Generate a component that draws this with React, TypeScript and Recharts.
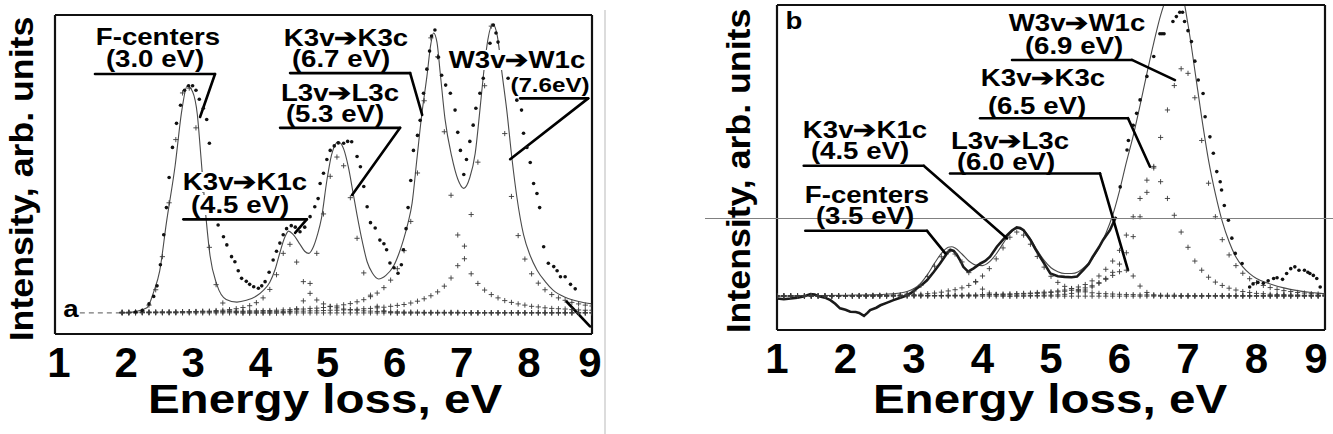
import { ComposedChart, Line, Scatter, XAxis, YAxis, ReferenceLine } from "recharts";

const FONT = '"Liberation Sans", Arial, Helvetica, sans-serif';

const energyTicks = [1, 2, 3, 4, 5, 6, 7, 8, 9];
const energyMinorTicks = [1, 1.5, 2, 2.5, 3, 3.5, 4, 4.5, 5, 5.5, 6, 6.5, 7, 7.5, 8, 8.5, 9];

// ---------- panel a ----------
const intensityTicksA = [-0.43, 0.57, 1.57, 2.57, 3.57, 4.57, 5.57, 6.57, 7.57, 8.57, 9.57];

const energyGridA = [
  2.0, 2.1, 2.2, 2.3, 2.4, 2.5, 2.6, 2.7, 2.8, 2.9,
  3.0, 3.1, 3.2, 3.3, 3.4, 3.5, 3.6, 3.7, 3.8, 3.9,
  4.0, 4.1, 4.2, 4.3, 4.4, 4.5, 4.6, 4.7, 4.8, 4.9,
  5.0, 5.1, 5.2, 5.3, 5.4, 5.5, 5.6, 5.7, 5.8, 5.9,
  6.0, 6.1, 6.2, 6.3, 6.4, 6.5, 6.6, 6.7, 6.8, 6.9,
  7.0, 7.1, 7.2, 7.3, 7.4, 7.5, 7.6, 7.7, 7.8, 7.9,
  8.0, 8.1, 8.2, 8.3, 8.4, 8.5, 8.6, 8.7, 8.8, 8.9,
  9.0,
];

const fCentersA = [
  0, 0, 0.01, 0.07, 0.26, 0.77, 1.87, 3.66, 5.76, 7.31,
  7.47, 6.15, 4.08, 2.18, 0.94, 0.33, 0.09, 0.02, 0, 0,
  0, 0, 0, 0, 0, 0, 0, 0, 0, 0,
  0, 0, 0, 0, 0, 0, 0, 0, 0, 0,
  0, 0, 0, 0, 0, 0, 0, 0, 0, 0,
  0, 0, 0, 0, 0, 0, 0, 0, 0, 0,
  0, 0, 0, 0, 0, 0, 0, 0, 0, 0,
  0,
];

const k1cA = [
  0.02, 0.02, 0.02, 0.02, 0.02, 0.02, 0.03, 0.03, 0.03, 0.04,
  0.04, 0.05, 0.06, 0.06, 0.08, 0.09, 0.11, 0.14, 0.18, 0.24,
  0.34, 0.5, 0.78, 1.27, 1.98, 2.28, 1.69, 1.04, 0.65, 0.43,
  0.3, 0.22, 0.17, 0.13, 0.1, 0.09, 0.07, 0.06, 0.05, 0.05,
  0.04, 0.04, 0.03, 0.03, 0.03, 0.02, 0.02, 0.02, 0.02, 0.02,
  0.02, 0.01, 0.01, 0.01, 0.01, 0.01, 0.01, 0.01, 0.01, 0.01,
  0.01, 0.01, 0.01, 0.01, 0.01, 0.01, 0.01, 0.01, 0.01, 0.01,
  0.01,
];

const l3cA = [
  0, 0, 0, 0, 0, 0, 0, 0, 0, 0,
  0, 0, 0, 0, 0, 0, 0, 0, 0, 0,
  0, 0, 0, 0, 0.01, 0.04, 0.14, 0.4, 0.98, 1.98,
  3.29, 4.54, 5.18, 4.89, 3.83, 2.48, 1.33, 0.59, 0.22, 0.07,
  0.02, 0, 0, 0, 0, 0, 0, 0, 0, 0,
  0, 0, 0, 0, 0, 0, 0, 0, 0, 0,
  0, 0, 0, 0, 0, 0, 0, 0, 0, 0,
  0,
];

const k3cA = [
  0.02, 0.02, 0.03, 0.03, 0.03, 0.03, 0.03, 0.03, 0.03, 0.04,
  0.04, 0.04, 0.04, 0.04, 0.05, 0.05, 0.05, 0.06, 0.06, 0.07,
  0.07, 0.08, 0.08, 0.09, 0.1, 0.11, 0.12, 0.13, 0.15, 0.16,
  0.18, 0.21, 0.23, 0.27, 0.31, 0.37, 0.44, 0.54, 0.66, 0.84,
  1.09, 1.47, 2.07, 3.04, 4.65, 7.05, 9.14, 8.51, 6.02, 3.91,
  2.59, 1.8, 1.3, 0.98, 0.76, 0.61, 0.5, 0.41, 0.35, 0.3,
  0.26, 0.22, 0.2, 0.17, 0.15, 0.14, 0.13, 0.11, 0.1, 0.09,
  0.09,
];

const w1cA = [
  0.02, 0.02, 0.02, 0.02, 0.02, 0.02, 0.02, 0.02, 0.02, 0.02,
  0.03, 0.03, 0.03, 0.03, 0.03, 0.03, 0.03, 0.04, 0.04, 0.04,
  0.04, 0.04, 0.05, 0.05, 0.05, 0.06, 0.06, 0.06, 0.07, 0.07,
  0.08, 0.09, 0.09, 0.1, 0.11, 0.12, 0.14, 0.15, 0.17, 0.19,
  0.22, 0.25, 0.28, 0.33, 0.39, 0.47, 0.57, 0.7, 0.89, 1.16,
  1.57, 2.22, 3.27, 5.01, 7.55, 9.53, 8.56, 5.96, 3.87, 2.57,
  1.79, 1.3, 0.99, 0.77, 0.61, 0.5, 0.42, 0.35, 0.3, 0.26,
  0.23,
];

// fitted sum, [eV, intensity]
const fitA = [
  [2.0, 0], [2.2, 0.05], [2.37, 0.17], [2.47, 0.7], [2.56, 1.4], [2.66, 3.0], [2.79, 4.9],
  [2.89, 6.74], [2.97, 7.55], [3.05, 7.35], [3.12, 6.6], [3.17, 5.3], [3.24, 3.4], [3.31, 1.9],
  [3.41, 0.95], [3.55, 0.45], [3.71, 0.36], [3.85, 0.42], [4.0, 0.56], [4.1, 0.74], [4.2, 1.02],
  [4.28, 1.45], [4.35, 2.0], [4.42, 2.5], [4.48, 2.72], [4.55, 2.6], [4.65, 2.28], [4.72, 2.05],
  [4.78, 1.98], [4.85, 2.2], [4.91, 2.6], [4.97, 3.15], [5.05, 4.4], [5.12, 5.25], [5.22, 5.69],
  [5.3, 5.45], [5.37, 4.85], [5.44, 4.0], [5.5, 3.25], [5.58, 2.35], [5.65, 1.7], [5.73, 1.32],
  [5.82, 1.13], [5.93, 1.25], [6.04, 1.54], [6.12, 1.95], [6.19, 2.42], [6.26, 3.0], [6.32, 3.65],
  [6.39, 5.08], [6.46, 6.52], [6.54, 7.85], [6.6, 8.95], [6.64, 9.3], [6.69, 9.0], [6.74, 7.95],
  [6.81, 6.45], [6.91, 5.2], [7.0, 4.45], [7.09, 4.14], [7.18, 4.5], [7.26, 5.3], [7.33, 6.74],
  [7.38, 7.85], [7.45, 9.1], [7.52, 9.6], [7.59, 9.2], [7.66, 7.95], [7.73, 6.74], [7.81, 5.08],
  [7.88, 3.86], [7.98, 2.6], [8.08, 1.9], [8.18, 1.43], [8.3, 1.05], [8.42, 0.76], [8.6, 0.52],
  [8.8, 0.38], [9.0, 0.3],
];

// measured points
const measuredA = [
  [2.2, 0.03], [2.3, 0.08], [2.4, 0.3], [2.47, 0.55], [2.52, 0.9], [2.57, 1.6], [2.62, 2.6],
  [2.66, 3.5], [2.7, 4.5], [2.75, 5.5], [2.81, 6.3], [2.87, 6.9], [2.93, 7.4], [2.99, 7.55],
  [3.05, 7.55], [3.1, 7.4], [3.15, 7.1], [3.21, 6.8], [3.26, 6.43], [3.3, 5.64], [3.35, 4.6],
  [3.39, 3.7], [3.43, 2.92], [3.51, 2.53], [3.56, 2.26], [3.63, 1.87], [3.68, 1.7], [3.73, 1.4],
  [3.78, 1.15], [3.85, 1.05], [3.9, 0.95], [3.96, 0.87], [4.03, 0.82], [4.08, 0.9], [4.13, 1.04],
  [4.19, 1.35], [4.25, 1.76], [4.3, 2.05], [4.35, 2.32], [4.4, 2.6], [4.45, 2.8], [4.52, 2.9],
  [4.58, 2.85], [4.65, 2.7], [4.72, 2.85], [4.8, 3.2], [4.87, 3.53], [4.92, 3.8], [4.95, 4.3],
  [5.0, 4.64], [5.05, 5.1], [5.1, 5.4], [5.16, 5.55], [5.22, 5.65], [5.3, 5.64], [5.36, 5.7],
  [5.42, 5.69], [5.5, 5.2], [5.55, 4.86], [5.6, 4.2], [5.65, 3.53], [5.7, 3.0], [5.77, 2.82],
  [5.84, 2.42], [5.9, 2.3], [5.94, 2.1], [5.99, 1.66], [6.05, 1.5], [6.11, 1.32], [6.16, 1.6],
  [6.19, 2.1], [6.23, 2.8], [6.26, 3.5], [6.3, 4.4], [6.34, 5.4], [6.4, 5.9], [6.44, 6.4],
  [6.49, 7.3], [6.54, 8.1], [6.58, 8.7], [6.61, 9.2], [6.66, 9.4], [6.71, 8.5], [6.76, 7.9],
  [6.82, 7.57], [6.89, 7.3], [6.96, 6.74], [7.0, 6.0], [7.04, 5.4], [7.09, 4.6], [7.13, 5.1],
  [7.18, 5.7], [7.23, 6.24], [7.27, 6.8], [7.33, 7.3], [7.38, 7.8], [7.43, 8.4], [7.48, 8.96],
  [7.53, 9.57], [7.57, 9.3], [7.6, 9.0], [7.66, 8.4], [7.75, 7.8], [7.82, 7.4], [7.88, 7.07],
  [7.95, 6.74], [7.98, 5.97], [8.03, 5.5], [8.08, 5.0], [8.13, 4.3], [8.18, 3.97], [8.22, 3.5],
  [8.28, 2.2], [8.35, 1.65], [8.43, 1.54], [8.48, 1.4], [8.53, 1.2], [8.6, 1.2], [8.68, 0.95],
  [8.75, 0.8],
];

// ---------- panel b ----------
const intensityTicksB = [-0.75, 0.25, 1.25, 2.25, 3.25, 4.25, 5.25, 6.25, 7.25, 8.25, 9.25];

const energyGridB = [
  1.0, 1.1, 1.2, 1.3, 1.4, 1.5, 1.6, 1.7, 1.8, 1.9,
  2.0, 2.1, 2.2, 2.3, 2.4, 2.5, 2.6, 2.7, 2.8, 2.9,
  3.0, 3.1, 3.2, 3.3, 3.4, 3.5, 3.6, 3.7, 3.8, 3.9,
  4.0, 4.1, 4.2, 4.3, 4.4, 4.5, 4.6, 4.7, 4.8, 4.9,
  5.0, 5.1, 5.2, 5.3, 5.4, 5.5, 5.6, 5.7, 5.8, 5.9,
  6.0, 6.1, 6.2, 6.3, 6.4, 6.5, 6.6, 6.7, 6.8, 6.9,
  7.0, 7.1, 7.2, 7.3, 7.4, 7.5, 7.6, 7.7, 7.8, 7.9,
  8.0, 8.1, 8.2, 8.3, 8.4, 8.5, 8.6, 8.7, 8.8, 8.9,
  9.0,
];

const fCentersB = [
  0, 0, 0, 0, 0, 0, 0, 0, 0, 0,
  0, 0, 0, 0, 0, 0, 0, 0.01, 0.02, 0.07,
  0.17, 0.35, 0.64, 0.98, 1.29, 1.45, 1.38, 1.12, 0.77, 0.46,
  0.23, 0.1, 0.04, 0.01, 0, 0, 0, 0, 0, 0,
  0, 0, 0, 0, 0, 0, 0, 0, 0, 0,
  0, 0, 0, 0, 0, 0, 0, 0, 0, 0,
  0, 0, 0, 0, 0, 0, 0, 0, 0, 0,
  0, 0, 0, 0, 0, 0, 0, 0, 0, 0,
  0,
];

const k1cB = [
  0.01, 0.01, 0.01, 0.01, 0.01, 0.01, 0.01, 0.01, 0.01, 0.01,
  0.02, 0.02, 0.02, 0.02, 0.03, 0.03, 0.03, 0.04, 0.04, 0.05,
  0.05, 0.06, 0.08, 0.1, 0.13, 0.17, 0.21, 0.27, 0.35, 0.48,
  0.66, 0.9, 1.22, 1.58, 1.93, 2.1, 2.0, 1.7, 1.3, 0.95,
  0.65, 0.45, 0.32, 0.24, 0.18, 0.14, 0.11, 0.09, 0.08, 0.07,
  0.06, 0.05, 0.05, 0.04, 0.04, 0.03, 0.03, 0.03, 0.03, 0.02,
  0.02, 0.02, 0.02, 0.02, 0.02, 0.02, 0.02, 0.02, 0.02, 0.02,
  0.02, 0.02, 0.02, 0.02, 0.02, 0.02, 0.02, 0.02, 0.02, 0.02,
  0.02,
];

const l3cB = [
  0, 0, 0, 0, 0, 0, 0, 0, 0, 0,
  0, 0, 0, 0, 0, 0, 0, 0, 0, 0,
  0, 0, 0, 0, 0, 0, 0, 0, 0, 0,
  0, 0, 0, 0, 0, 0.01, 0.01, 0.02, 0.02, 0.03,
  0.03, 0.04, 0.06, 0.09, 0.14, 0.2, 0.3, 0.42, 0.55, 0.68,
  0.8, 0.85, 0.66, 0.33, 0.12, 0.04, 0.01, 0, 0, 0,
  0, 0, 0, 0, 0, 0, 0, 0, 0, 0,
  0, 0, 0, 0, 0, 0, 0, 0, 0, 0,
  0,
];

const k3cB = [
  0.01, 0.01, 0.01, 0.01, 0.01, 0.01, 0.01, 0.01, 0.01, 0.01,
  0.01, 0.01, 0.01, 0.01, 0.01, 0.02, 0.02, 0.02, 0.02, 0.02,
  0.02, 0.02, 0.02, 0.02, 0.02, 0.03, 0.03, 0.03, 0.04, 0.04,
  0.05, 0.05, 0.06, 0.07, 0.07, 0.08, 0.09, 0.1, 0.12, 0.13,
  0.14, 0.17, 0.2, 0.25, 0.3, 0.38, 0.5, 0.66, 0.88, 1.15,
  1.5, 2.0, 2.6, 3.2, 3.8, 4.2, 3.75, 3.2, 2.65, 2.1,
  1.6, 1.15, 0.85, 0.62, 0.46, 0.35, 0.26, 0.2, 0.15, 0.12,
  0.09, 0.08, 0.06, 0.05, 0.05, 0.04, 0.04, 0.03, 0.03, 0.02,
  0.02,
];

const w1cB = [
  0.01, 0.01, 0.01, 0.01, 0.01, 0.01, 0.01, 0.01, 0.01, 0.01,
  0.01, 0.01, 0.01, 0.01, 0.01, 0.01, 0.01, 0.01, 0.01, 0.01,
  0.02, 0.02, 0.02, 0.02, 0.02, 0.02, 0.02, 0.02, 0.02, 0.02,
  0.04, 0.04, 0.05, 0.05, 0.06, 0.07, 0.07, 0.08, 0.09, 0.1,
  0.12, 0.14, 0.16, 0.19, 0.22, 0.27, 0.34, 0.44, 0.58, 0.78,
  1.05, 1.42, 1.95, 2.6, 3.4, 4.25, 5.2, 6.1, 6.9, 7.45,
  7.3, 6.5, 5.1, 3.7, 2.6, 1.85, 1.35, 1.0, 0.75, 0.57,
  0.44, 0.35, 0.28, 0.22, 0.18, 0.15, 0.12, 0.1, 0.08, 0.07,
  0.06,
];

const fitB = [
  [1.0, 0], [2.0, 0.03], [2.5, 0.05], [2.7, 0.08], [2.8, 0.1], [2.9, 0.15], [3.0, 0.25],
  [3.1, 0.43], [3.2, 0.72], [3.3, 1.08], [3.4, 1.4], [3.5, 1.6], [3.55, 1.62], [3.6, 1.58],
  [3.7, 1.38], [3.8, 1.15], [3.9, 1.02], [4.0, 1.0], [4.1, 1.12], [4.2, 1.38], [4.3, 1.72],
  [4.4, 2.05], [4.5, 2.22], [4.6, 2.15], [4.7, 1.88], [4.8, 1.5], [4.9, 1.17], [5.0, 0.93],
  [5.1, 0.8], [5.2, 0.74], [5.3, 0.74], [5.4, 0.8], [5.5, 0.97], [5.6, 1.22], [5.7, 1.58],
  [5.8, 2.05], [5.9, 2.65], [6.0, 3.45], [6.1, 4.38], [6.2, 5.25], [6.3, 6.25], [6.4, 7.3],
  [6.5, 8.3], [6.6, 9.2], [6.7, 9.85], [6.8, 10.15], [6.9, 10.0], [7.0, 8.9], [7.1, 7.4],
  [7.2, 5.85], [7.3, 4.45], [7.4, 3.35], [7.5, 2.45], [7.6, 1.78], [7.7, 1.28], [7.8, 0.96],
  [7.9, 0.74], [8.0, 0.58], [8.2, 0.4], [8.4, 0.27], [8.6, 0.18], [8.8, 0.12], [9.0, 0.08],
];

// dense measured trace, then the sparse measured points
const measuredTraceB = [
  [1.0, -0.08], [1.1, -0.1], [1.2, -0.08], [1.3, -0.05], [1.4, 0.0], [1.49, 0.07], [1.55, 0.05],
  [1.6, 0.0], [1.7, -0.05], [1.78, -0.13], [1.85, -0.25], [1.92, -0.4], [2.0, -0.45], [2.07, -0.51],
  [2.15, -0.52], [2.2, -0.55], [2.27, -0.65], [2.32, -0.55], [2.36, -0.46], [2.45, -0.38], [2.51, -0.3],
  [2.6, -0.22], [2.7, -0.13], [2.8, -0.05], [2.9, 0.03], [2.97, 0.12], [3.04, 0.25], [3.12, 0.38],
  [3.19, 0.52], [3.29, 0.8], [3.38, 1.07], [3.45, 1.3], [3.48, 1.4], [3.53, 1.52], [3.58, 1.48],
  [3.63, 1.34], [3.68, 1.15], [3.72, 0.96], [3.79, 0.8], [3.87, 0.91], [3.97, 1.07], [4.04, 1.15],
  [4.11, 1.29], [4.21, 1.62], [4.3, 1.85], [4.36, 2.0], [4.43, 2.15], [4.5, 2.25], [4.55, 2.23],
  [4.6, 2.16], [4.7, 1.84], [4.77, 1.55], [4.84, 1.29], [4.92, 1.0], [4.99, 0.74], [5.1, 0.65],
  [5.2, 0.63], [5.3, 0.62], [5.38, 0.64], [5.47, 0.85], [5.55, 1.05], [5.61, 1.29], [5.7, 1.6],
  [5.76, 1.84], [5.86, 2.16], [5.95, 2.6],
];

const measuredB = [
  [6.01, 3.58], [6.11, 4.79], [6.13, 5.1], [6.2, 5.6], [6.25, 5.99], [6.3, 6.43], [6.4, 7.2],
  [6.5, 7.85], [6.59, 8.6], [6.62, 8.6], [6.65, 8.6], [6.78, 9.0], [6.83, 9.16], [6.88, 9.3],
  [6.92, 9.3], [6.95, 9.0], [7.0, 8.7], [7.05, 8.34], [7.1, 7.7], [7.15, 7.08], [7.22, 6.64],
  [7.25, 5.88], [7.32, 5.22], [7.37, 4.68], [7.42, 4.08], [7.47, 3.75], [7.49, 3.48], [7.53, 2.97],
  [7.59, 2.49], [7.64, 1.9], [7.69, 1.4], [7.79, 1.07], [7.9, 0.3], [7.95, 0.4], [8.02, 0.45],
  [8.1, 0.42], [8.17, 0.5], [8.25, 0.58], [8.3, 0.6], [8.38, 0.55], [8.44, 0.74], [8.5, 0.9],
  [8.56, 0.96], [8.62, 0.85], [8.7, 0.85], [8.75, 0.78], [8.78, 0.74], [8.83, 0.68], [8.88, 0.58],
  [8.93, 0.3],
];

// ---------- annotation leaders (data coordinates) ----------
const leadersA = [
  [[1.596, 7.94], [3.384, 7.94], [3.161, 6.51]],
  [[4.502, 7.97], [6.291, 7.97], [6.47, 6.58]],
  [[4.353, 6.15], [6.141, 6.15], [5.426, 3.92]],
  [[2.912, 3.11], [4.751, 3.11], [4.577, 2.66]],
  [[7.93, 7.13], [8.943, 7.13], [7.781, 5.11]],
  [[8.62, 0.38], [8.97, -0.45]],
];

const leadersB = [
  [[4.431, 7.74], [6.182, 7.74], [6.81, 7.08]],
  [[3.964, 5.83], [6.124, 5.83], [6.445, 4.24]],
  [[3.526, 4.02], [5.715, 4.02], [6.124, 0.85]],
  [[1.39, 4.27], [3.142, 4.27], [4.358, 1.89]],
  [[1.413, 2.14], [3.19, 2.14], [3.457, 1.4]],
];

const ARROW = "\u2794";

type Pt = { e: number; v: number };
const onGrid = (grid: number[], vals: number[]): Pt[] => grid.map((e, i) => ({ e, v: vals[i] }));
const fromPairs = (rows: number[][]): Pt[] => rows.map(([e, v]) => ({ e, v }));

function CrossMark(props: any) {
  const { cx, cy } = props;
  if (cx == null || cy == null) return null;
  return (
    <path
      d={`M${cx - 2.6},${cy}H${cx + 2.6}M${cx},${cy - 2.6}V${cy + 2.6}`}
      stroke="#3a3a3a"
      strokeWidth={0.9}
      fill="none"
    />
  );
}

function DotMark(props: any) {
  const { cx, cy } = props;
  if (cx == null || cy == null) return null;
  return <circle cx={cx} cy={cy} r={1.8} fill="#111" />;
}

function EnergyTick(props: any) {
  const { x, y, payload, shift, lastShift } = props;
  const dx = payload.value === 9 ? lastShift : shift;
  return (
    <text x={x + dx} y={y + 30} textAnchor="middle" fontFamily={FONT} fontSize={42} fontWeight={700} fill="#000">
      {payload.value}
    </text>
  );
}

type PanelProps = {
  width: number;
  margin: { top: number; right: number; bottom: number; left: number };
  yDomain: [number, number];
  yTicks: number[];
  grid: number[];
  parts: number[][];
  fit: number[][];
  dots: number[][];
  trace?: number[][];
  leaders: number[][][];
  dashed?: boolean;
  labelShift: number;
  lastShift: number;
};

function Panel({ width, margin, yDomain, yTicks, grid, parts, fit, dots, trace, leaders, dashed, labelShift, lastShift }: PanelProps) {
  const frame = { stroke: "#111", strokeWidth: 2.2 };
  const tickLine = { stroke: "#222", strokeWidth: 1.2 };
  return (
    <ComposedChart width={width} height={434} margin={margin}>
      <XAxis xAxisId="b" dataKey="e" type="number" domain={[1, 9]} ticks={energyMinorTicks} interval={0}
        allowDataOverflow orientation="bottom" mirror height={1} tick={false} tickSize={6}
        axisLine={frame} tickLine={tickLine} />
      <XAxis xAxisId="t" dataKey="e" type="number" domain={[1, 9]} ticks={energyMinorTicks} interval={0}
        allowDataOverflow orientation="top" mirror height={1} tick={false} tickSize={6}
        axisLine={frame} tickLine={tickLine} />
      <XAxis xAxisId="lab" dataKey="e" type="number" domain={[1, 9]} ticks={energyTicks} interval={0}
        allowDataOverflow orientation="bottom" height={50} axisLine={false} tickLine={false}
        tickSize={0} tickMargin={13}
        tick={(p: any) => <EnergyTick {...p} shift={labelShift} lastShift={lastShift} />} />
      <YAxis yAxisId="l" dataKey="v" type="number" domain={yDomain} ticks={yTicks} interval={0}
        allowDataOverflow orientation="left" mirror width={1} tick={false} tickSize={6}
        axisLine={frame} tickLine={tickLine} />
      <YAxis yAxisId="r" dataKey="v" type="number" domain={yDomain} ticks={yTicks} interval={0}
        allowDataOverflow orientation="right" mirror width={1} tick={false} tickSize={6}
        axisLine={frame} tickLine={tickLine} />

      {dashed && (
        <ReferenceLine xAxisId="b" yAxisId="l" segment={[{ x: 1.37, y: 0 }, { x: 2.0, y: 0 }]}
          stroke="#777" strokeWidth={1.2} strokeDasharray="5 4" ifOverflow="visible" />
      )}

      {parts.map((vals, i) => (
        <Scatter key={`part-${i}`} xAxisId="b" yAxisId="l" data={onGrid(grid, vals)}
          shape={CrossMark} isAnimationActive={false} />
      ))}

      <Line xAxisId="b" yAxisId="l" data={fromPairs(fit)} dataKey="v" type="monotone"
        stroke="#4a4a4a" strokeWidth={1.1} dot={false} activeDot={false} isAnimationActive={false} />

      {trace && (
        <Line xAxisId="b" yAxisId="l" data={fromPairs(trace)} dataKey="v" type="linear"
          stroke="#1a1a1a" strokeWidth={2.6} dot={false} activeDot={false} isAnimationActive={false} />
      )}

      <Scatter xAxisId="b" yAxisId="l" data={fromPairs(dots)} shape={DotMark} isAnimationActive={false} />

      {leaders.flatMap((path, i) =>
        path.slice(1).map((p, j) => (
          <ReferenceLine key={`ld-${i}-${j}`} xAxisId="b" yAxisId="l"
            segment={[{ x: path[j][0], y: path[j][1] }, { x: p[0], y: p[1] }]}
            stroke="#000" strokeWidth={2.6} strokeLinecap="round" ifOverflow="visible" />
        ))
      )}
    </ComposedChart>
  );
}

function Note({ x, top, text, size = 24, bg = false }: { x: number; top: number; text: string; size?: number; bg?: boolean }) {
  const lh = Math.round(size * 0.85);
  return (
    <div
      style={{
        position: "absolute",
        left: x,
        top: top - Math.round(size * 0.06),
        transform: "translateX(-50%) scaleX(1.15)",
        fontFamily: FONT,
        fontWeight: 700,
        fontSize: size,
        lineHeight: `${lh}px`,
        whiteSpace: "nowrap",
        color: "#000",
        background: bg ? "#fff" : "transparent",
      }}
    >
      {text}
    </div>
  );
}

function AxisTitles({ cx, yTitleX, yTitleY }: { cx: number; yTitleX: number; yTitleY: number }) {
  return (
    <>
      <div
        style={{
          position: "absolute",
          left: cx,
          top: 379,
          transform: "translateX(-50%) scaleX(1.16)",
          fontFamily: FONT,
          fontWeight: 700,
          fontSize: 41,
          lineHeight: "41px",
          whiteSpace: "nowrap",
          color: "#000",
        }}
      >
        Energy loss, eV
      </div>
      <div
        style={{
          position: "absolute",
          left: yTitleX,
          top: yTitleY,
          transform: "translate(-50%, -50%) rotate(-90deg) scaleX(1.05)",
          fontFamily: FONT,
          fontWeight: 700,
          fontSize: 34,
          lineHeight: "34px",
          whiteSpace: "nowrap",
          color: "#000",
        }}
      >
        Intensity, arb. units
      </div>
    </>
  );
}

export default function App() {
  return (
    <div style={{ position: "absolute", left: 0, top: 0, width: 1333, height: 434, background: "#fff", overflow: "hidden" }}>
      <div style={{ position: "absolute", left: 0, top: 0 }}>
        <Panel
          width={620}
          margin={{ top: 15, right: 28, bottom: 50, left: 55 }}
          yDomain={[-0.7, 9.9]}
          yTicks={intensityTicksA}
          grid={energyGridA}
          parts={[fCentersA, k1cA, l3cA, k3cA, w1cA]}
          fit={fitA}
          dots={measuredA}
          leaders={leadersA}
          labelShift={4}
          lastShift={-2}
          dashed
        />
      </div>
      <div style={{ position: "absolute", left: 700, top: 0 }}>
        <Panel
          width={633}
          margin={{ top: 5, right: 8, bottom: 54, left: 77 }}
          yDomain={[-1.11, 9.54]}
          yTicks={intensityTicksB}
          grid={energyGridB}
          parts={[fCentersB, k1cB, l3cB, k3cB, w1cB]}
          fit={fitB}
          dots={measuredB}
          trace={measuredTraceB}
          leaders={leadersB}
          labelShift={0}
          lastShift={-9}
        />
      </div>

      {/* panel separator and scan line */}
      <div style={{ position: "absolute", left: 604, top: 10, width: 2, height: 424, background: "#dcdcdc" }} />
      <div style={{ position: "absolute", left: 705, top: 218, width: 628, height: 1, background: "#808080" }} />

      <AxisTitles cx={325} yTitleX={21} yTitleY={179} />
      <AxisTitles cx={1050} yTitleX={738} yTitleY={171} />

      {/* panel a notes */}
      <Note x={71} top={300} text="a" size={24} />
      <Note x={158} top={28} text="F-centers" bg />
      <Note x={155} top={50} text="(3.0 eV)" bg />
      <Note x={346} top={29} text={`K3v${ARROW}K3c`} bg />
      <Note x={341} top={50} text="(6.7 eV)" bg />
      <Note x={340} top={84} text={`L3v${ARROW}L3c`} bg />
      <Note x={335} top={105} text="(5.3 eV)" bg />
      <Note x={245} top={173} text={`K3v${ARROW}K1c`} bg />
      <Note x={240} top={196} text="(4.5 eV)" bg />
      <Note x={517} top={51} text={`W3v${ARROW}W1c`} bg />
      <Note x={550} top={77} text="(7.6eV)" size={21} bg />

      {/* panel b notes */}
      <Note x={794} top={12} text="b" size={24} />
      <Note x={1077} top={14} text={`W3v${ARROW}W1c`} />
      <Note x={1074} top={37} text="(6.9 eV)" />
      <Note x={1043} top={69} text={`K3v${ARROW}K3c`} />
      <Note x={1037} top={97} text="(6.5 eV)" />
      <Note x={1010} top={132} text={`L3v${ARROW}L3c`} />
      <Note x={1006} top={153} text="(6.0 eV)" />
      <Note x={865} top={121} text={`K3v${ARROW}K1c`} />
      <Note x={860} top={142} text="(4.5 eV)" />
      <Note x={867} top={186} text="F-centers" />
      <Note x={865} top={207} text="(3.5 eV)" />
    </div>
  );
}
